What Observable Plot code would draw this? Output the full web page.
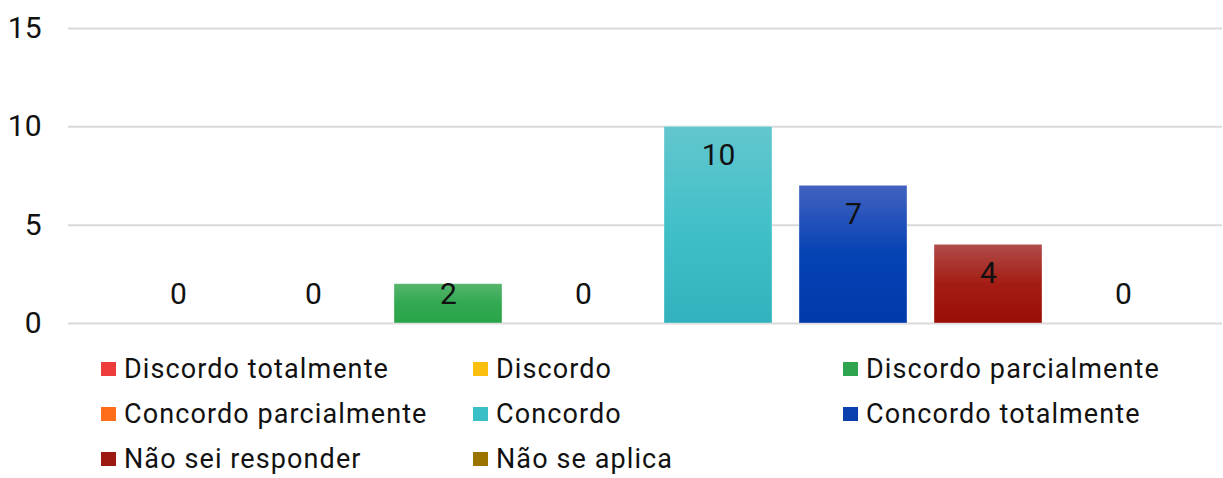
<!DOCTYPE html>
<html>
<head>
<meta charset="utf-8">
<script src="https://cdn.jsdelivr.net/npm/d3@7"></script>
<script src="https://cdn.jsdelivr.net/npm/@observablehq/plot@0.6"></script>
<style>
  html, body { margin: 0; padding: 0; background: #fff; }
  body { width: 1223px; height: 478px; overflow: hidden; font-family: Roboto, sans-serif; }
  #chart svg { display: block; }
  #legend { display: grid; grid-template-columns: 372px 370px auto; padding-left: 101px; margin-top: 1px; font-size: 27px; letter-spacing: 1.1px; color: #111; }
  .item { display: flex; align-items: center; height: 45px; white-space: nowrap; }
  .sw { width: 15px; height: 14px; margin-right: 8px; flex: none; }
</style>
</head>
<body>
<svg width="0" height="0" style="position:absolute">
  <defs>
    <linearGradient id="g0" x1="0" y1="0" x2="0" y2="1"><stop offset="0" stop-color="#f05a5a"/><stop offset="1" stop-color="#e02a2a"/></linearGradient>
    <linearGradient id="g1" x1="0" y1="0" x2="0" y2="1"><stop offset="0" stop-color="#ffcb3a"/><stop offset="1" stop-color="#f2b400"/></linearGradient>
    <linearGradient id="g2" x1="0" y1="0" x2="0" y2="1"><stop offset="0" stop-color="#55b56c"/><stop offset="0.5" stop-color="#33a952"/><stop offset="1" stop-color="#2aa448"/></linearGradient>
    <linearGradient id="g3" x1="0" y1="0" x2="0" y2="1"><stop offset="0" stop-color="#ff8a3d"/><stop offset="1" stop-color="#f66a10"/></linearGradient>
    <linearGradient id="g4" x1="0" y1="0" x2="0" y2="1"><stop offset="0" stop-color="#63c6cd"/><stop offset="0.5" stop-color="#42c0c9"/><stop offset="1" stop-color="#31b2bc"/></linearGradient>
    <linearGradient id="g5" x1="0" y1="0" x2="0" y2="1"><stop offset="0" stop-color="#4262c0"/><stop offset="0.5" stop-color="#0542b4"/><stop offset="1" stop-color="#003aaa"/></linearGradient>
    <linearGradient id="g6" x1="0" y1="0" x2="0" y2="1"><stop offset="0" stop-color="#b04c4a"/><stop offset="0.5" stop-color="#a41d14"/><stop offset="1" stop-color="#9a0e04"/></linearGradient>
    <linearGradient id="g7" x1="0" y1="0" x2="0" y2="1"><stop offset="0" stop-color="#a8842a"/><stop offset="1" stop-color="#977000"/></linearGradient>
  </defs>
</svg>
<div id="chart"></div>
<div id="legend"></div>
<script>
const categories = [
  "Discordo totalmente", "Discordo", "Discordo parcialmente", "Concordo parcialmente",
  "Concordo", "Concordo totalmente", "Não sei responder", "Não se aplica"
];
const values = [0, 0, 2, 0, 10, 7, 4, 0];
const colors = ["#ee3b3b", "#fbbf10", "#2ea44f", "#ff6d1a", "#3bbfc7", "#0a40ae", "#9c1a12", "#9a7300"];
const yTicks = [0, 5, 10, 15];

const data = categories.map((c, i) => ({category: c, value: values[i], fill: `url(#g${i})`}));

const chart = Plot.plot({
  width: 1223,
  height: 345,
  marginTop: 28,
  marginBottom: 22,
  marginLeft: 68,
  marginRight: 1,
  style: {fontFamily: "Roboto, sans-serif", fontSize: "30px", color: "#111", background: "#fff"},
  x: {domain: categories, insetLeft: 42, insetRight: 32, paddingInner: 0.2, paddingOuter: 0.1, axis: null},
  y: {domain: [0, 15], ticks: yTicks, tickSize: 0, tickPadding: 27, label: null},
  color: {type: "identity"},
  marks: [
    Plot.ruleY(yTicks, {stroke: "#d9d9d9", strokeWidth: 2}),
    Plot.barY(data, {x: "category", y: "value", fill: "fill", stroke: "#ffffff", strokeOpacity: 0.35, strokeWidth: 1}),
    Plot.text(data, {x: "category", y: d => Math.max(d.value, 2.95), dy: 29, text: d => String(d.value), fill: "#111", fontSize: 30})
  ]
});
document.getElementById("chart").appendChild(chart);

const legend = document.getElementById("legend");
categories.forEach((c, i) => {
  const item = document.createElement("div");
  item.className = "item";
  const sw = document.createElement("span");
  sw.className = "sw";
  sw.style.background = colors[i];
  const t = document.createElement("span");
  t.textContent = c;
  item.appendChild(sw);
  item.appendChild(t);
  legend.appendChild(item);
});
</script>
</body>
</html>
